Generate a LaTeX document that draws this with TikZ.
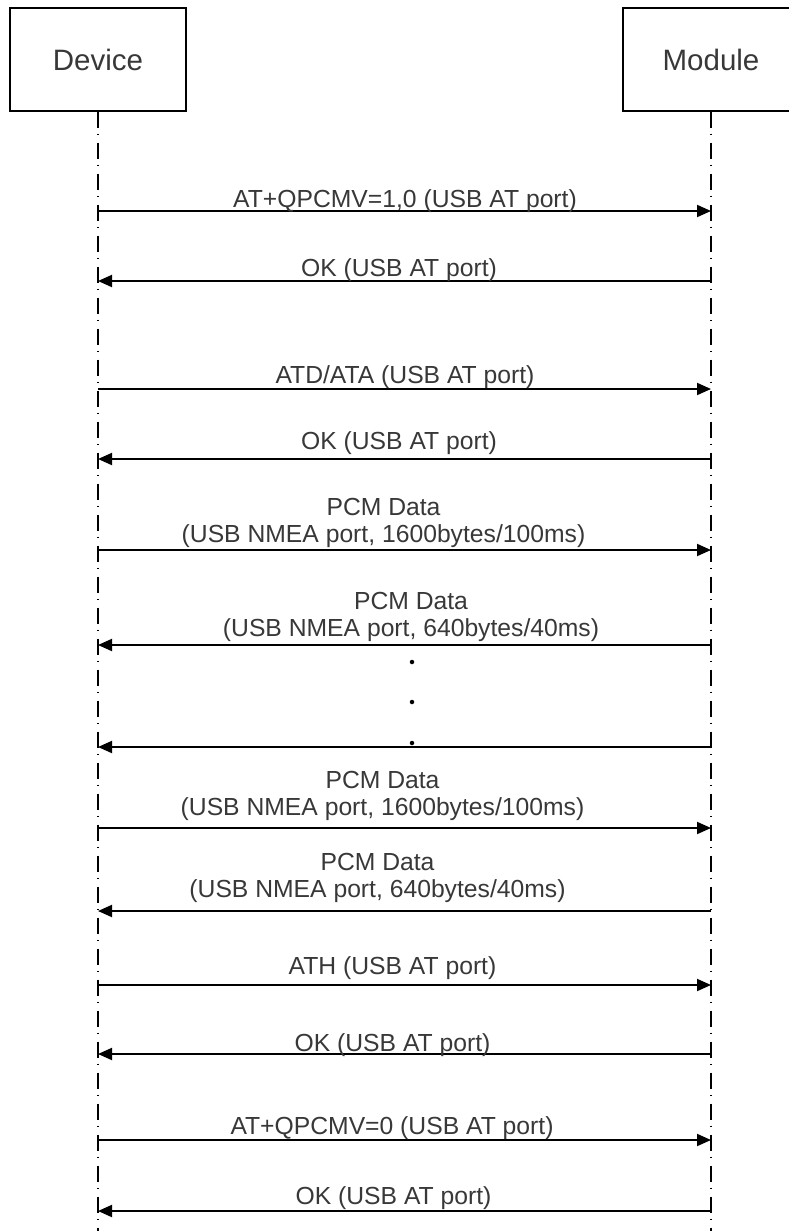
\documentclass[tikz,border=0pt]{standalone}
\usepackage{fontspec}
\setmainfont{Liberation Sans}
\usetikzlibrary{arrows.meta}
\definecolor{txt}{rgb}{0.22,0.22,0.22}
\tikzset{
  actor/.style={draw=black, line width=1.3pt, rectangle, minimum width=176pt, minimum height=103pt, inner sep=0pt,
    font=\fontsize{29.5}{32}\selectfont, text=txt},
  lifeline/.style={line width=1.4pt, dash pattern=on 16pt off 6pt on 1.5pt off 7.5pt},
  msg/.style={line width=1.9pt, -{Triangle[length=14pt,width=12pt]}},
  lbl/.style={font=\fontsize{24.7}{27}\selectfont, text=txt, align=center, anchor=base, inner sep=0pt},
  ddot/.style={circle, fill=black, inner sep=0pt, minimum size=4.5pt}
}
\begin{document}
\begin{tikzpicture}[x=1pt,y=-1pt]
\useasboundingbox (0,0) rectangle (789,1231);
\clip (0,0) rectangle (789,1231);
\node[actor] (dev) at (98,59.5) {Device};
\node[actor] (mod) at (711,59.5) {Module};
\coordinate (devEnd) at (98,1235);
\coordinate (modEnd) at (711,1235);
\draw[lifeline] (dev.south) -- (devEnd);
\draw[lifeline] (mod.south) -- (modEnd);
\foreach \i/\y in {1/211,2/281,3/389,4/459,5/550,6/645,7/747,8/828,9/911,10/985,11/1054,12/1140,13/1211}{
  \coordinate (d\i) at (98,\y);
  \coordinate (m\i) at (711,\y);
}
% rightward
\foreach \i in {1,3,5,8,10,12}{ \draw[msg] (d\i) -- (m\i); }
% leftward
\foreach \i in {2,4,6,7,9,11,13}{ \draw[msg] (m\i) -- (d\i); }
\node[lbl] (l1) at (405,207) {AT+QPCMV=1,0 (USB AT port)};
\node[lbl] (l2) at (399,276) {OK (USB AT port)};
\node[lbl] (l3) at (405,383) {ATD/ATA (USB AT port)};
\node[lbl] (l4) at (399,449) {OK (USB AT port)};
\node[lbl] (l5) at (383.5,542) {PCM Data\\(USB NMEA port, 1600bytes/100ms)};
\node[lbl] (l6) at (411,636) {PCM Data\\(USB NMEA port, 640bytes/40ms)};
\node[lbl] (l8) at (382.5,815) {PCM Data\\(USB NMEA port, 1600bytes/100ms)};
\node[lbl] (l9) at (377.5,897) {PCM Data\\(USB NMEA port, 640bytes/40ms)};
\node[lbl] (l10) at (392.5,974) {ATH (USB AT port)};
\node[lbl] (l11) at (392.5,1051) {OK (USB AT port)};
\node[lbl] (l12) at (392,1134) {AT+QPCMV=0 (USB AT port)};
\node[lbl] (l13) at (393.5,1204) {OK (USB AT port)};
\node[ddot] (p1) at (412,662) {};
\node[ddot] (p2) at (412,702) {};
\node[ddot] (p3) at (412,743) {};
\end{tikzpicture}
\end{document}
